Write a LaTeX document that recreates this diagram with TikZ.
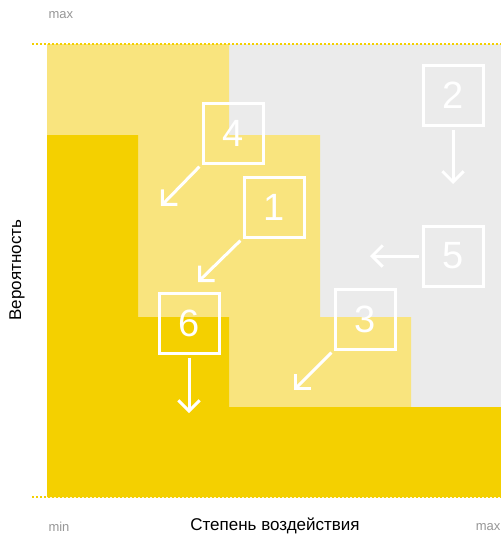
\documentclass[tikz,border=0pt]{standalone}
\usepackage{fontspec}
\setmainfont{Liberation Sans}
\definecolor{riskhigh}{RGB}{244, 208, 0}
\definecolor{riskmid}{RGB}{249, 228, 126}
\definecolor{risklow}{RGB}{235, 235, 235}
\definecolor{axisgrey}{RGB}{150, 150, 150}
\usetikzlibrary{arrows.meta, positioning, calc}

\begin{document}
\begin{tikzpicture}[x=1pt, y=-1pt,
    riskbox/.style={draw=white, line width=3pt, text=white, minimum size=60pt,
                    inner sep=0pt, font=\fontsize{38}{38}\selectfont},
    move/.style={draw=white, line width=3pt, shorten <=3pt,
                 -{Straight Barb[angle=90:15pt]}},
    limit/.style={riskhigh, line width=1.5pt, dash pattern=on 1.5pt off 2.5pt}]
    \useasboundingbox (0,0) rectangle (501,536);

    % zones: low, medium, high
    \fill[risklow] (47,44) rectangle (501,497);
    \fill[riskmid] (47,44) -- (229,44) -- (229,135) -- (320,135) -- (320,317)
        -- (411,317) -- (411,497) -- (47,497) -- cycle;
    \fill[riskhigh] (47,135) -- (138,135) -- (138,317) -- (229,317) -- (229,407)
        -- (501,407) -- (501,497) -- (47,497) -- cycle;
    \draw[limit] (32,44) -- (501,44);
    \draw[limit] (32,497) -- (501,497);

    % axes
    \node[font=\fontsize{13}{13}\selectfont, text=axisgrey, anchor=west] (ymax) at (45,15) {max};
    \node[font=\fontsize{13}{13}\selectfont, text=axisgrey, anchor=west] (xmin) at (45,527) {min};
    \node[font=\fontsize{13}{13}\selectfont, text=axisgrey, anchor=east] (xmax) at (504,527) {max};
    \node[font=\fontsize{17}{17}\selectfont] (xlabel) at (275,526) {Степень воздействия};
    \node[font=\fontsize{17}{17}\selectfont, rotate=90] (ylabel) at (17,270) {Вероятность};

    % risks
    \node[riskbox] (r4) at (233,133) {4};
    \node[riskbox] (r1) at (274,207) {1};
    \node[riskbox] (r2) at (453,95) {2};
    \node[riskbox] (r5) at (453,256) {5};
    \node[riskbox] (r6) at (189,323) {6};
    \node[riskbox] (r3) at (365,319) {3};

    \coordinate (t4) at (161,206);
    \coordinate (t1) at (198,282);
    \coordinate (t2) at (453,184);
    \coordinate (t5) at (370,256);
    \coordinate (t6) at (189,413);
    \coordinate (t3) at (294,390);

    \draw[move] (r4.south west) -- (t4);
    \draw[move] (r1.south west) -- (t1);
    \draw[move] (r2.south) -- (t2);
    \draw[move] (r5.west) -- (t5);
    \draw[move] (r6.south) -- (t6);
    \draw[move] (r3.south west) -- (t3);
\end{tikzpicture}
\end{document}
